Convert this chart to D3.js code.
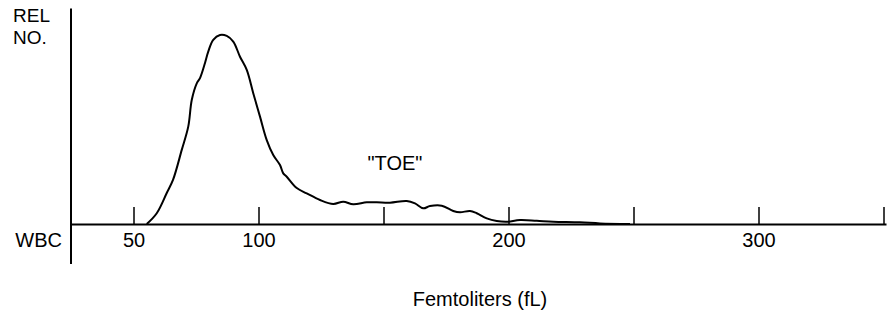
<!DOCTYPE html>
<html>
<head>
<meta charset="utf-8">
<script src="https://cdn.jsdelivr.net/npm/d3@7"></script>
<style>
  body { margin: 0; background: #fff; }
  svg { display: block; }
  text { font-family: "Liberation Sans", Arial, Helvetica, sans-serif; font-size: 20px; fill: #000; }
  .tick line { stroke: #000; stroke-width: 1.5; }
  .domain { stroke: #000; stroke-width: 2; }
</style>
</head>
<body>
<div id="chart"></div>
<script>
// histogram trace, volume (fL) and relative number (peak = 100)
const volume = [55.3, 59.3, 63.3, 65.8, 69.3, 71.9, 73.3, 75.3, 76.6, 78.6, 79.9, 81.9, 84.6, 87.3, 89.9,
  92.6, 95.3, 97.9, 100.6, 103.3, 105.9, 108.6, 109.9, 111.3, 115.3, 119.3, 124.6, 129.9, 133.9, 137.9,
  143.3, 147.3, 152.6, 159.3, 162.6, 165.9, 168.6, 173.3, 177.9, 180.6, 184.6, 187.3, 191.3, 195.3,
  199.3, 204.6, 211.3, 217.9, 228.6, 236.6, 248.6]
const relNo = [0, 5.7, 16.4, 23.3, 39.2, 51.5, 65.6, 74.4, 77.2, 85.2, 91.2, 97.4, 100, 99.5, 96.5,
  88.5, 81.5, 69.2, 56.8, 44.4, 36.5, 31.2, 26.8, 25.0, 19.0, 16.2, 12.7, 10.6, 11.8, 10.4,
  11.5, 11.5, 11.3, 12.2, 10.9, 8.3, 9.5, 9.7, 6.9, 6.2, 6.9, 5.7, 3.0, 1.6,
  1.2, 2.1, 1.7, 1.2, 0.9, 0.3, 0]

const tickValues = [50, 100, 150, 200, 250, 300, 350]
const tickLabels = [50, 100, 200, 300]

const width = 888
const height = 319

const $svg = d3.select('#chart').append('svg')
  .attr('width', width)
  .attr('height', height)

const scaleX = d3.scaleLinear().domain([25, 351]).range([71, 886])
const scaleY = d3.scaleLinear().domain([0, 114]).range([224, 8.5])

// vertical axis, runs past the baseline
$svg.append('line')
  .attr('x1', scaleX(25)).attr('x2', scaleX(25))
  .attr('y1', scaleY(114)).attr('y2', scaleY(0) + 40)
  .attr('stroke', '#000')
  .attr('stroke-width', 2)

// baseline with ticks pointing up
const axis = d3.axisBottom(scaleX)
  .tickValues(tickValues)
  .tickSizeInner(-17)
  .tickSizeOuter(0)
  .tickPadding(9)
  .tickFormat(d => tickLabels.includes(d) ? d : '')

$svg.append('g')
  .attr('transform', `translate(0, ${scaleY(0)})`)
  .call(axis)
  .call(g => g.selectAll('text').attr('font-size', null).attr('font-family', null))

const line = d3.line()
  .x((d, i) => scaleX(volume[i]))
  .y(d => scaleY(d))
  .curve(d3.curveCatmullRom.alpha(0.5))

$svg.append('path')
  .datum(relNo)
  .attr('d', line)
  .attr('fill', 'none')
  .attr('stroke', '#000')
  .attr('stroke-width', 2)

// labels
$svg.append('text').attr('x', 13).attr('y', 22).style('font-size', '19px').text('REL')
$svg.append('text').attr('x', 13).attr('y', 44).style('font-size', '19px').text('NO.')
$svg.append('text').attr('x', 62).attr('y', 247).attr('text-anchor', 'end').text('WBC')
$svg.append('text').attr('x', 395).attr('y', 170).attr('text-anchor', 'middle').text('"TOE"')
$svg.append('text').attr('x', 480).attr('y', 306).attr('text-anchor', 'middle').text('Femtoliters (fL)')
</script>
</body>
</html>
